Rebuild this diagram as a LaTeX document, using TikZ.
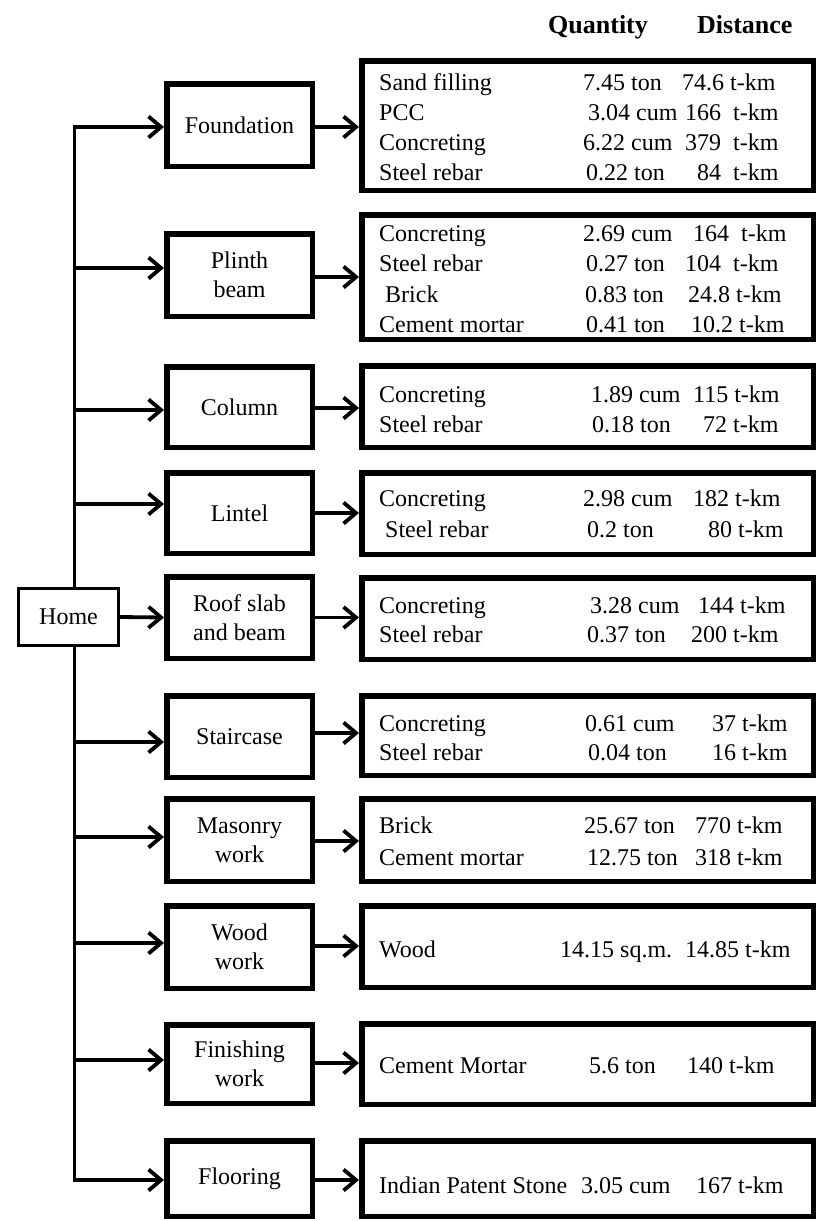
\documentclass[tikz,border=0pt]{standalone}
\usepackage{fontspec}
\setmainfont{Liberation Serif}
\usetikzlibrary{arrows.meta}

\tikzset{
  stage/.style={draw, line width=5.5pt, fill=white, inner sep=0pt, align=center,
    font=\fontsize{24}{29}\selectfont},
  detail/.style={draw, line width=5.5pt, inner sep=0pt},
  root/.style={draw, line width=3pt, fill=white, inner sep=0pt,
    font=\fontsize{24}{29}\selectfont},
  conn/.style={line width=3.8pt, arrows={-Straight Barb[length=12.5pt,width=21pt]}},
  txt/.style={anchor=base west, inner sep=0pt, font=\fontsize{24}{29}\selectfont},
  head/.style={anchor=base west, inner sep=0pt, font=\fontsize{26}{30}\selectfont\bfseries},
}

% box from its outer corners: style, name, x1, y1, x2, y2, line width, text
\newcommand\bx[8]{%
  \node[#1, minimum width={#5-#3-#7}, minimum height={#6-#4-#7}]
    (#2) at ({(#3+#5)/2},{(#4+#6)/2}) {#8};}
% one line of a detail box: id, baseline, x name, name, x qty, qty, x dist, dist
\newcommand\itm[8]{%
  \node[txt] (#1n) at (#3,#2) {#4};
  \node[txt] (#1q) at (#5,#2) {#6};
  \node[txt] (#1d) at (#7,#2) {#8};}

\begin{document}
\begin{tikzpicture}[x=1pt, y=-1pt]
\path[use as bounding box] (0,0) rectangle (817,1221);

% column headings
\node[head] (hq) at (548,33) {Quantity};
\node[head] (hd) at (697,33) {Distance};

% root
\bx{root}{home}{17}{587}{120}{647}{3}{Home}

% work stages
\bx{stage}{fnd}{164}{81}{315}{169}{5.5}{Foundation}
\bx{stage}{pln}{164}{231}{315}{319}{5.5}{Plinth\\beam}
\bx{stage}{col}{164}{364}{315}{450}{5.5}{Column}
\bx{stage}{lnt}{164}{470}{315}{556}{5.5}{Lintel}
\bx{stage}{rfs}{164}{574}{315}{661}{5.5}{Roof slab\\and beam}
\bx{stage}{str}{164}{693}{315}{780}{5.5}{Staircase}
\bx{stage}{msn}{164}{796}{315}{884}{5.5}{Masonry\\work}
\bx{stage}{wdw}{164}{903}{315}{991}{5.5}{Wood\\work}
\bx{stage}{fin}{164}{1022}{315}{1106}{5.5}{Finishing\\work}
\bx{stage}{flr}{164}{1138}{315}{1219}{5.5}{Flooring}

% material boxes
\bx{detail}{fdet}{359}{58}{816}{193}{5.5}{}
\bx{detail}{pdet}{359}{212}{816}{342}{5.5}{}
\bx{detail}{cdet}{359}{363}{816}{450}{5.5}{}
\bx{detail}{ldet}{359}{470}{816}{557}{5.5}{}
\bx{detail}{rdet}{359}{575}{816}{662}{5.5}{}
\bx{detail}{sdet}{359}{693}{816}{778}{5.5}{}
\bx{detail}{mdet}{359}{796}{816}{884}{5.5}{}
\bx{detail}{wdet}{359}{903}{816}{990}{5.5}{}
\bx{detail}{hdet}{359}{1021}{816}{1107}{5.5}{}
\bx{detail}{gdet}{359}{1138}{816}{1219}{5.5}{}

% material lines
\itm{f1}{90}{379}{Sand filling}{583}{7.45 ton}{682}{74.6 t-km}
\itm{f2}{120}{379}{PCC}{588}{3.04 cum}{685}{166~~t-km}
\itm{f3}{150}{379}{Concreting}{583}{6.22 cum}{685}{379~~t-km}
\itm{f4}{180}{379}{Steel rebar}{586}{0.22 ton}{697}{84~~t-km}

\itm{p1}{241}{379}{Concreting}{583}{2.69 cum}{693}{164~~t-km}
\itm{p2}{271}{379}{Steel rebar}{586}{0.27 ton}{685}{104~~t-km}
\itm{p3}{302}{385}{Brick}{585}{0.83 ton}{688}{24.8 t-km}
\itm{p4}{332}{379}{Cement mortar}{586}{0.41 ton}{691}{10.2 t-km}

\itm{c1}{402}{379}{Concreting}{591}{1.89 cum}{693}{115 t-km}
\itm{c2}{432}{379}{Steel rebar}{592}{0.18 ton}{703}{72 t-km}

\itm{l1}{506}{379}{Concreting}{583}{2.98 cum}{693}{182 t-km}
\itm{l2}{537}{385}{Steel rebar}{587}{0.2 ton}{708}{80 t-km}

\itm{r1}{613}{379}{Concreting}{590}{3.28 cum}{698}{144 t-km}
\itm{r2}{642}{379}{Steel rebar}{587}{0.37 ton}{691}{200 t-km}

\itm{s1}{731}{379}{Concreting}{585}{0.61 cum}{712}{37 t-km}
\itm{s2}{760}{379}{Steel rebar}{588}{0.04 ton}{712}{16 t-km}

\itm{m1}{833}{379}{Brick}{584}{25.67 ton}{695}{770 t-km}
\itm{m2}{865}{379}{Cement mortar}{587}{12.75 ton}{695}{318 t-km}

\itm{w1}{957}{379}{Wood}{560}{14.15 sq.m.}{685}{14.85 t-km}
\itm{h1}{1073}{379}{Cement Mortar}{589}{5.6 ton}{687}{140 t-km}
\itm{g1}{1193}{379}{Indian Patent Stone}{581}{3.05 cum}{696}{167 t-km}

% branch heights
\coordinate (tx) at (74.5,0);
\coordinate (yF) at (0,127);
\coordinate (yP) at (0,268);
\coordinate (yC) at (0,410);
\coordinate (yL) at (0,504);
\coordinate (yS) at (0,742);
\coordinate (yM) at (0,837);
\coordinate (yW) at (0,943);
\coordinate (yH) at (0,1060);
\coordinate (yG) at (0,1180);

\coordinate (eF) at (0,127);
\coordinate (eP) at (0,277);
\coordinate (eC) at (0,408);
\coordinate (eL) at (0,513);
\coordinate (eS) at (0,733);
\coordinate (eM) at (0,841);
\coordinate (eW) at (0,946);
\coordinate (eH) at (0,1063);
\coordinate (eG) at (0,1180);

% trunk and branches
\draw[conn] (home.north -| tx) |- (fnd.west |- yF);
\draw[conn] (home.south -| tx) |- (flr.west |- yG);
\draw[conn] (tx |- yP) -- (pln.west |- yP);
\draw[conn] (tx |- yC) -- (col.west |- yC);
\draw[conn] (tx |- yL) -- (lnt.west |- yL);
\draw[conn] (home.east) -- (rfs.west);
\draw[conn] (tx |- yS) -- (str.west |- yS);
\draw[conn] (tx |- yM) -- (msn.west |- yM);
\draw[conn] (tx |- yW) -- (wdw.west |- yW);
\draw[conn] (tx |- yH) -- (fin.west |- yH);

% stage to materials
\draw[conn] (fnd.east |- eF) -- (fdet.west |- eF);
\draw[conn] (pln.east |- eP) -- (pdet.west |- eP);
\draw[conn] (col.east |- eC) -- (cdet.west |- eC);
\draw[conn] (lnt.east |- eL) -- (ldet.west |- eL);
\draw[conn] (rfs.east) -- (rdet.west |- rfs.east);
\draw[conn] (str.east |- eS) -- (sdet.west |- eS);
\draw[conn] (msn.east |- eM) -- (mdet.west |- eM);
\draw[conn] (wdw.east |- eW) -- (wdet.west |- eW);
\draw[conn] (fin.east |- eH) -- (hdet.west |- eH);
\draw[conn] (flr.east |- eG) -- (gdet.west |- eG);
\end{tikzpicture}
\end{document}
